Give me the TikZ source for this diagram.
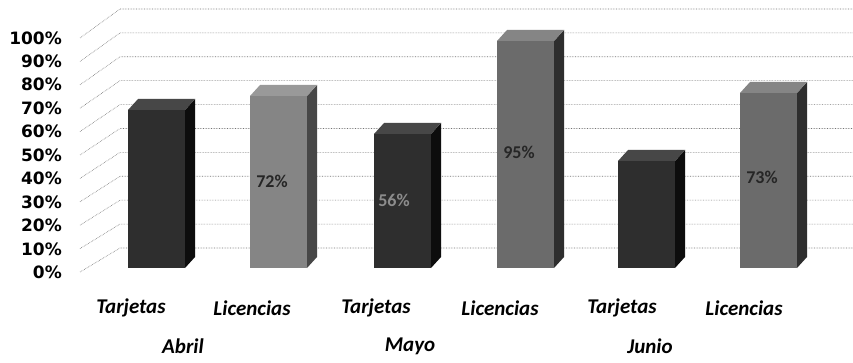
\documentclass[tikz,border=0pt]{standalone}
\usepackage{fontspec}
\setmainfont{Carlito}
\newfontfamily\axisfont{DejaVu Sans}
\tikzset{
  gridln/.style={black!55, densely dotted, line width=0.6pt},
  axl/.style={anchor=east, inner sep=0pt, font=\axisfont\bfseries\fontsize{17}{17}\selectfont},
  catl/.style={inner sep=0pt, font=\bfseries\itshape\fontsize{21}{21}\selectfont},
  vall/.style={inner sep=0pt, font=\bfseries\fontsize{18}{18}\selectfont},
}
\newcommand\drawbar[5]{%
  \fill[#3] (#1,268) rectangle ({#1+57},#2);
  \fill[#4] ({#1+57},268) -- ({#1+67},257) -- ({#1+67},{#2-11}) -- ({#1+57},#2) -- cycle;
  \fill[#5] (#1,#2) -- ({#1+10},{#2-11}) -- ({#1+67},{#2-11}) -- ({#1+57},#2) -- cycle;
}
\begin{document}
\begin{tikzpicture}[x=1pt,y=-1pt]
\useasboundingbox (0,0) rectangle (853,363);
\fill[white] (0,0) rectangle (853,363);
% gridlines
\foreach \k in {0,...,10}{
  \draw[gridln] (80,{272-23.4*\k}) -- (120,{248-23.9*\k}) -- (853,{248-23.9*\k});
}
% axis labels
\foreach \p/\y in {0/272,10/249,20/225,30/202,40/178,50/155,60/131,70/108,80/84,90/61,100/38}{
  \node[axl] (ax\p) at (62,\y) {\p\%};
}
% bars
\drawbar{128}{110}{black!82}{black!95}{black!72}
\drawbar{250}{96}{black!48}{black!72}{black!40}
\drawbar{374}{134}{black!82}{black!95}{black!72}
\drawbar{497}{41}{black!58}{black!82}{black!48}
\drawbar{618}{161}{black!82}{black!95}{black!72}
\drawbar{740}{93}{black!58}{black!82}{black!48}
% value labels
\node[vall, text=black!85] (v1) at (272,181) {72\%};
\node[vall, text=black!45] (v2) at (394,200) {56\%};
\node[vall, text=black!85] (v3) at (519,152) {95\%};
\node[vall, text=black!85] (v4) at (762,177) {73\%};
% category labels
\node[catl] (c1) at (131,308) {Tarjetas};
\node[catl] (c2) at (252,308) {Licencias};
\node[catl] (c3) at (376,308) {Tarjetas};
\node[catl] (c4) at (500,308) {Licencias};
\node[catl] (c5) at (622,308) {Tarjetas};
\node[catl] (c6) at (744,308) {Licencias};
\node[catl] (m1) at (183,346) {Abril};
\node[catl] (m2) at (410,346) {Mayo};
\node[catl] (m3) at (650,346) {Junio};
\end{tikzpicture}
\end{document}
